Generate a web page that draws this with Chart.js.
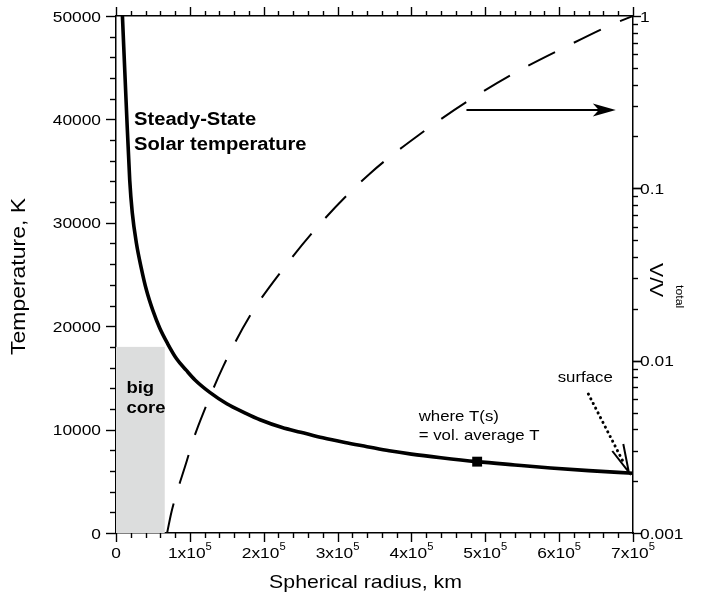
<!DOCTYPE html>
<html lang="en">
<head>
    <meta charset="UTF-8">
    <script src="https://cdn.jsdelivr.net/npm/chart.js"></script>
    <title>Steady-State Solar temperature</title>
    <style>
        html, body {
            margin: 0;
            padding: 0;
            background: #fff;
        }
    </style>
</head>
<body>
    <canvas id="solar" width="702" height="597"></canvas>

    <script>
        // solid curve: spherical radius (km) -> temperature (K)
        const tempRadius = [8700, 14000, 18600, 22000, 27700, 34000, 41200, 50000, 59300, 70000,
            82000, 95000, 107000, 127000, 150000, 175000, 195000, 225000, 250000, 280000,
            310000, 340000, 370000, 400000, 440000, 489000, 540000, 588500, 640000, 700000];
        const tempValues = [50000, 41200, 34100, 31000, 28000, 25700, 23500, 21500, 19800, 18300,
            16850, 15750, 14800, 13600, 12500, 11600, 10950, 10200, 9750, 9200,
            8750, 8350, 7950, 7630, 7280, 6900, 6580, 6290, 6030, 5780];

        // dashed curve: spherical radius (km) -> V/Vtotal (right, log axis)
        const volRadius = [69200, 75200, 95500, 106800, 118000, 145000, 181000, 227000,
            281000, 344000, 410000, 475000, 543000, 609000, 673000, 700000];
        const volValues = [0.001, 0.00133, 0.00259, 0.0037, 0.00495, 0.00923, 0.0181, 0.0344,
            0.0655, 0.122, 0.204, 0.318, 0.475, 0.663, 0.899, 1.0];

        // point where T(s) = vol. average T
        const avgRadius = [489000];
        const avgTemp = [6900];

        // shaded "big core" box (radius, temperature)
        const coreRadius = 66000;
        const coreTemp = 18000;

        // axes
        const xTicks = [0, 100000, 200000, 300000, 400000, 500000, 600000, 700000];
        const xTickLabels = ['0', '1x10', '2x10', '3x10', '4x10', '5x10', '6x10', '7x10'];
        const xTickSup = ['', '5', '5', '5', '5', '5', '5', '5'];
        const yTicks = [0, 10000, 20000, 30000, 40000, 50000];
        const y2Ticks = [0.001, 0.01, 0.1, 1];
        const y2TickLabels = ['0.001', '0.01', '0.1', '1'];

        const SX = 1.12; // the reference type is a little wide
        const FONT = "'Liberation Sans', Arial, sans-serif";

        function text(ctx, str, x, y, size, opts) {
            opts = opts || {};
            ctx.save();
            ctx.font = (opts.bold ? 'bold ' : '') + size + 'px ' + FONT;
            ctx.fillStyle = '#000';
            ctx.textAlign = opts.align || 'left';
            ctx.textBaseline = 'alphabetic';
            ctx.translate(x, y);
            if (opts.rotate) ctx.rotate(opts.rotate);
            ctx.scale(SX, 1);
            ctx.fillText(str, 0, 0);
            ctx.restore();
        }

        function seg(ctx, x1, y1, x2, y2) {
            ctx.beginPath();
            ctx.moveTo(x1, y1);
            ctx.lineTo(x2, y2);
            ctx.stroke();
        }

        const decor = {
            id: 'decor',
            beforeDatasetsDraw(chart) {
                const { ctx, scales: { x, y } } = chart;
                ctx.save();
                ctx.fillStyle = '#dcdddd';
                ctx.fillRect(x.getPixelForValue(0), y.getPixelForValue(coreTemp),
                    x.getPixelForValue(coreRadius) - x.getPixelForValue(0),
                    y.getPixelForValue(0) - y.getPixelForValue(coreTemp));
                ctx.restore();
            },
            afterDraw(chart) {
                const { ctx, chartArea: a, scales: { x, y, y2 } } = chart;
                const P = (r, t) => [x.getPixelForValue(r), y.getPixelForValue(t)];

                // ticks, all pointing outwards
                ctx.save();
                ctx.setLineDash([]);
                ctx.strokeStyle = '#000';
                ctx.lineWidth = 1.4;
                ctx.lineCap = 'butt';
                for (let v = 0; v <= 700000; v += 20000) {
                    const px = Math.round(x.getPixelForValue(v)) + 0.5;
                    const len = v % 100000 === 0 ? 9 : 5;
                    seg(ctx, px, a.bottom, px, a.bottom + len);
                    seg(ctx, px, a.top, px, a.top - len);
                }
                for (let v = 0; v <= 50000; v += 2000) {
                    const py = Math.round(y.getPixelForValue(v)) + 0.5;
                    const len = v % 10000 === 0 ? 10 : 6;
                    seg(ctx, a.left - len, py, a.left, py);
                }
                [0.001, 0.01, 0.1].forEach(d => {
                    for (let m = 1; m <= 10; m++) {
                        const py = Math.round(y2.getPixelForValue(d * m)) + 0.5;
                        const len = (m === 1 || m === 10) ? 8 : 5;
                        seg(ctx, a.right, py, a.right + len, py);
                    }
                });
                ctx.restore();

                // tick labels
                xTicks.forEach((v, i) => {
                    const px = x.getPixelForValue(v);
                    ctx.font = '15.5px ' + FONT;
                    const bw = ctx.measureText(xTickLabels[i]).width * SX;
                    ctx.font = '10px ' + FONT;
                    const sw = ctx.measureText(xTickSup[i]).width * SX;
                    const x0 = px - (bw + sw) / 2;
                    text(ctx, xTickLabels[i], x0, 558, 15.5);
                    if (xTickSup[i]) text(ctx, xTickSup[i], x0 + bw, 550, 10);
                });
                yTicks.forEach(v => {
                    text(ctx, String(v), a.left - 15, y.getPixelForValue(v) + 5.5, 15.5, { align: 'right' });
                });
                y2Ticks.forEach((v, i) => {
                    text(ctx, y2TickLabels[i], a.right + 7, y2.getPixelForValue(v) + 5.5, 15.5);
                });

                // axis titles
                text(ctx, 'Spherical radius, km', (a.left + a.right) / 2 - 9, 588, 19, { align: 'center' });
                text(ctx, 'Temperature, K', 25, (a.top + a.bottom) / 2 + 2, 20.5, { align: 'center', rotate: -Math.PI / 2 });
                text(ctx, 'V/V', 650, 263, 19, { rotate: Math.PI / 2 });
                text(ctx, 'total', 676, 285, 11, { rotate: Math.PI / 2 });

                // annotations
                let p = P(24400, 39450);
                text(ctx, 'Steady-State', p[0], p[1], 18, { bold: true });
                p = P(24400, 37040);
                text(ctx, 'Solar temperature', p[0], p[1], 18, { bold: true });
                p = P(14100, 13540);
                text(ctx, 'big', p[0], p[1], 16.5, { bold: true });
                p = P(14100, 11610);
                text(ctx, 'core', p[0], p[1], 16.5, { bold: true });
                p = P(409800, 10830);
                text(ctx, 'where T(s)', p[0], p[1], 15);
                p = P(409800, 8990);
                text(ctx, '= vol. average T', p[0], p[1], 15);
                p = P(598000, 14600);
                text(ctx, 'surface', p[0], p[1], 15);

                // solid arrow pointing to the right-hand axis
                ctx.save();
                const s0 = P(474500, 40900), s1 = P(676700, 40900);
                ctx.strokeStyle = '#000';
                ctx.fillStyle = '#000';
                ctx.lineWidth = 2;
                seg(ctx, s0[0], s0[1], s1[0] - 16, s1[1]);
                ctx.beginPath();
                ctx.moveTo(s1[0], s1[1]);
                ctx.lineTo(s1[0] - 23, s1[1] - 6.5);
                ctx.lineTo(s1[0] - 17, s1[1]);
                ctx.lineTo(s1[0] - 23, s1[1] + 6.5);
                ctx.closePath();
                ctx.fill();
                ctx.restore();

                // dotted arrow to the surface
                ctx.save();
                const d0 = P(639600, 13440), d1 = P(694300, 5900);
                ctx.strokeStyle = '#000';
                ctx.lineCap = 'round';
                ctx.lineWidth = 3;
                ctx.setLineDash([0.1, 5.2]);
                seg(ctx, d0[0], d0[1], d1[0] - 6, d1[1] - 11);
                ctx.setLineDash([]);
                ctx.lineWidth = 2;
                ctx.lineCap = 'butt';
                ctx.beginPath();
                ctx.moveTo(d1[0] - 16.5, d1[1] - 21);
                ctx.lineTo(d1[0], d1[1]);
                ctx.lineTo(d1[0] - 5.5, d1[1] - 28);
                ctx.stroke();
                ctx.restore();
            }
        };

        function fixed(size, key) {
            return scale => { scale[key] = size; };
        }

        function frameAxis(extra) {
            return Object.assign({
                afterBuildTicks: s => { s.ticks = []; },
                ticks: { display: false },
                grid: { display: false },
                border: { display: true, color: '#000', width: 1.5 }
            }, extra);
        }

        new Chart(document.getElementById('solar'), {
            type: 'scatter',
            data: {
                datasets: [{
                    label: 'Temperature',
                    data: tempRadius.map((r, i) => ({ x: r, y: tempValues[i] })),
                    yAxisID: 'y',
                    showLine: true,
                    borderColor: '#000',
                    borderWidth: 3.6,
                    pointRadius: 0,
                    cubicInterpolationMode: 'monotone'
                },
                {
                    label: 'V/Vtotal',
                    data: volRadius.map((r, i) => ({ x: r, y: volValues[i] })),
                    yAxisID: 'y2',
                    showLine: true,
                    borderColor: '#000',
                    borderWidth: 2,
                    borderDash: [30, 21],
                    pointRadius: 0,
                    cubicInterpolationMode: 'monotone'
                },
                {
                    label: 'vol. average T',
                    data: avgRadius.map((r, i) => ({ x: r, y: avgTemp[i] })),
                    yAxisID: 'y',
                    pointStyle: 'rect',
                    pointRadius: 7,
                    backgroundColor: '#000',
                    borderColor: '#000',
                    borderWidth: 0
                }]
            },
            options: {
                responsive: false,
                animation: false,
                layout: { padding: 0 },
                plugins: {
                    legend: { display: false },
                    tooltip: { enabled: false }
                },
                scales: {
                    x: frameAxis({ type: 'linear', position: 'bottom', min: 0, max: 700000, afterFit: fixed(64, 'height') }),
                    x2: frameAxis({ type: 'linear', position: 'top', min: 0, max: 700000, afterFit: fixed(16, 'height') }),
                    y: frameAxis({ type: 'linear', position: 'left', min: 0, max: 50000, afterFit: fixed(116, 'width') }),
                    y2: frameAxis({ type: 'logarithmic', position: 'right', min: 0.001, max: 1, afterFit: fixed(69, 'width') })
                }
            },
            plugins: [decor]
        });
    </script>
</body>
</html>
